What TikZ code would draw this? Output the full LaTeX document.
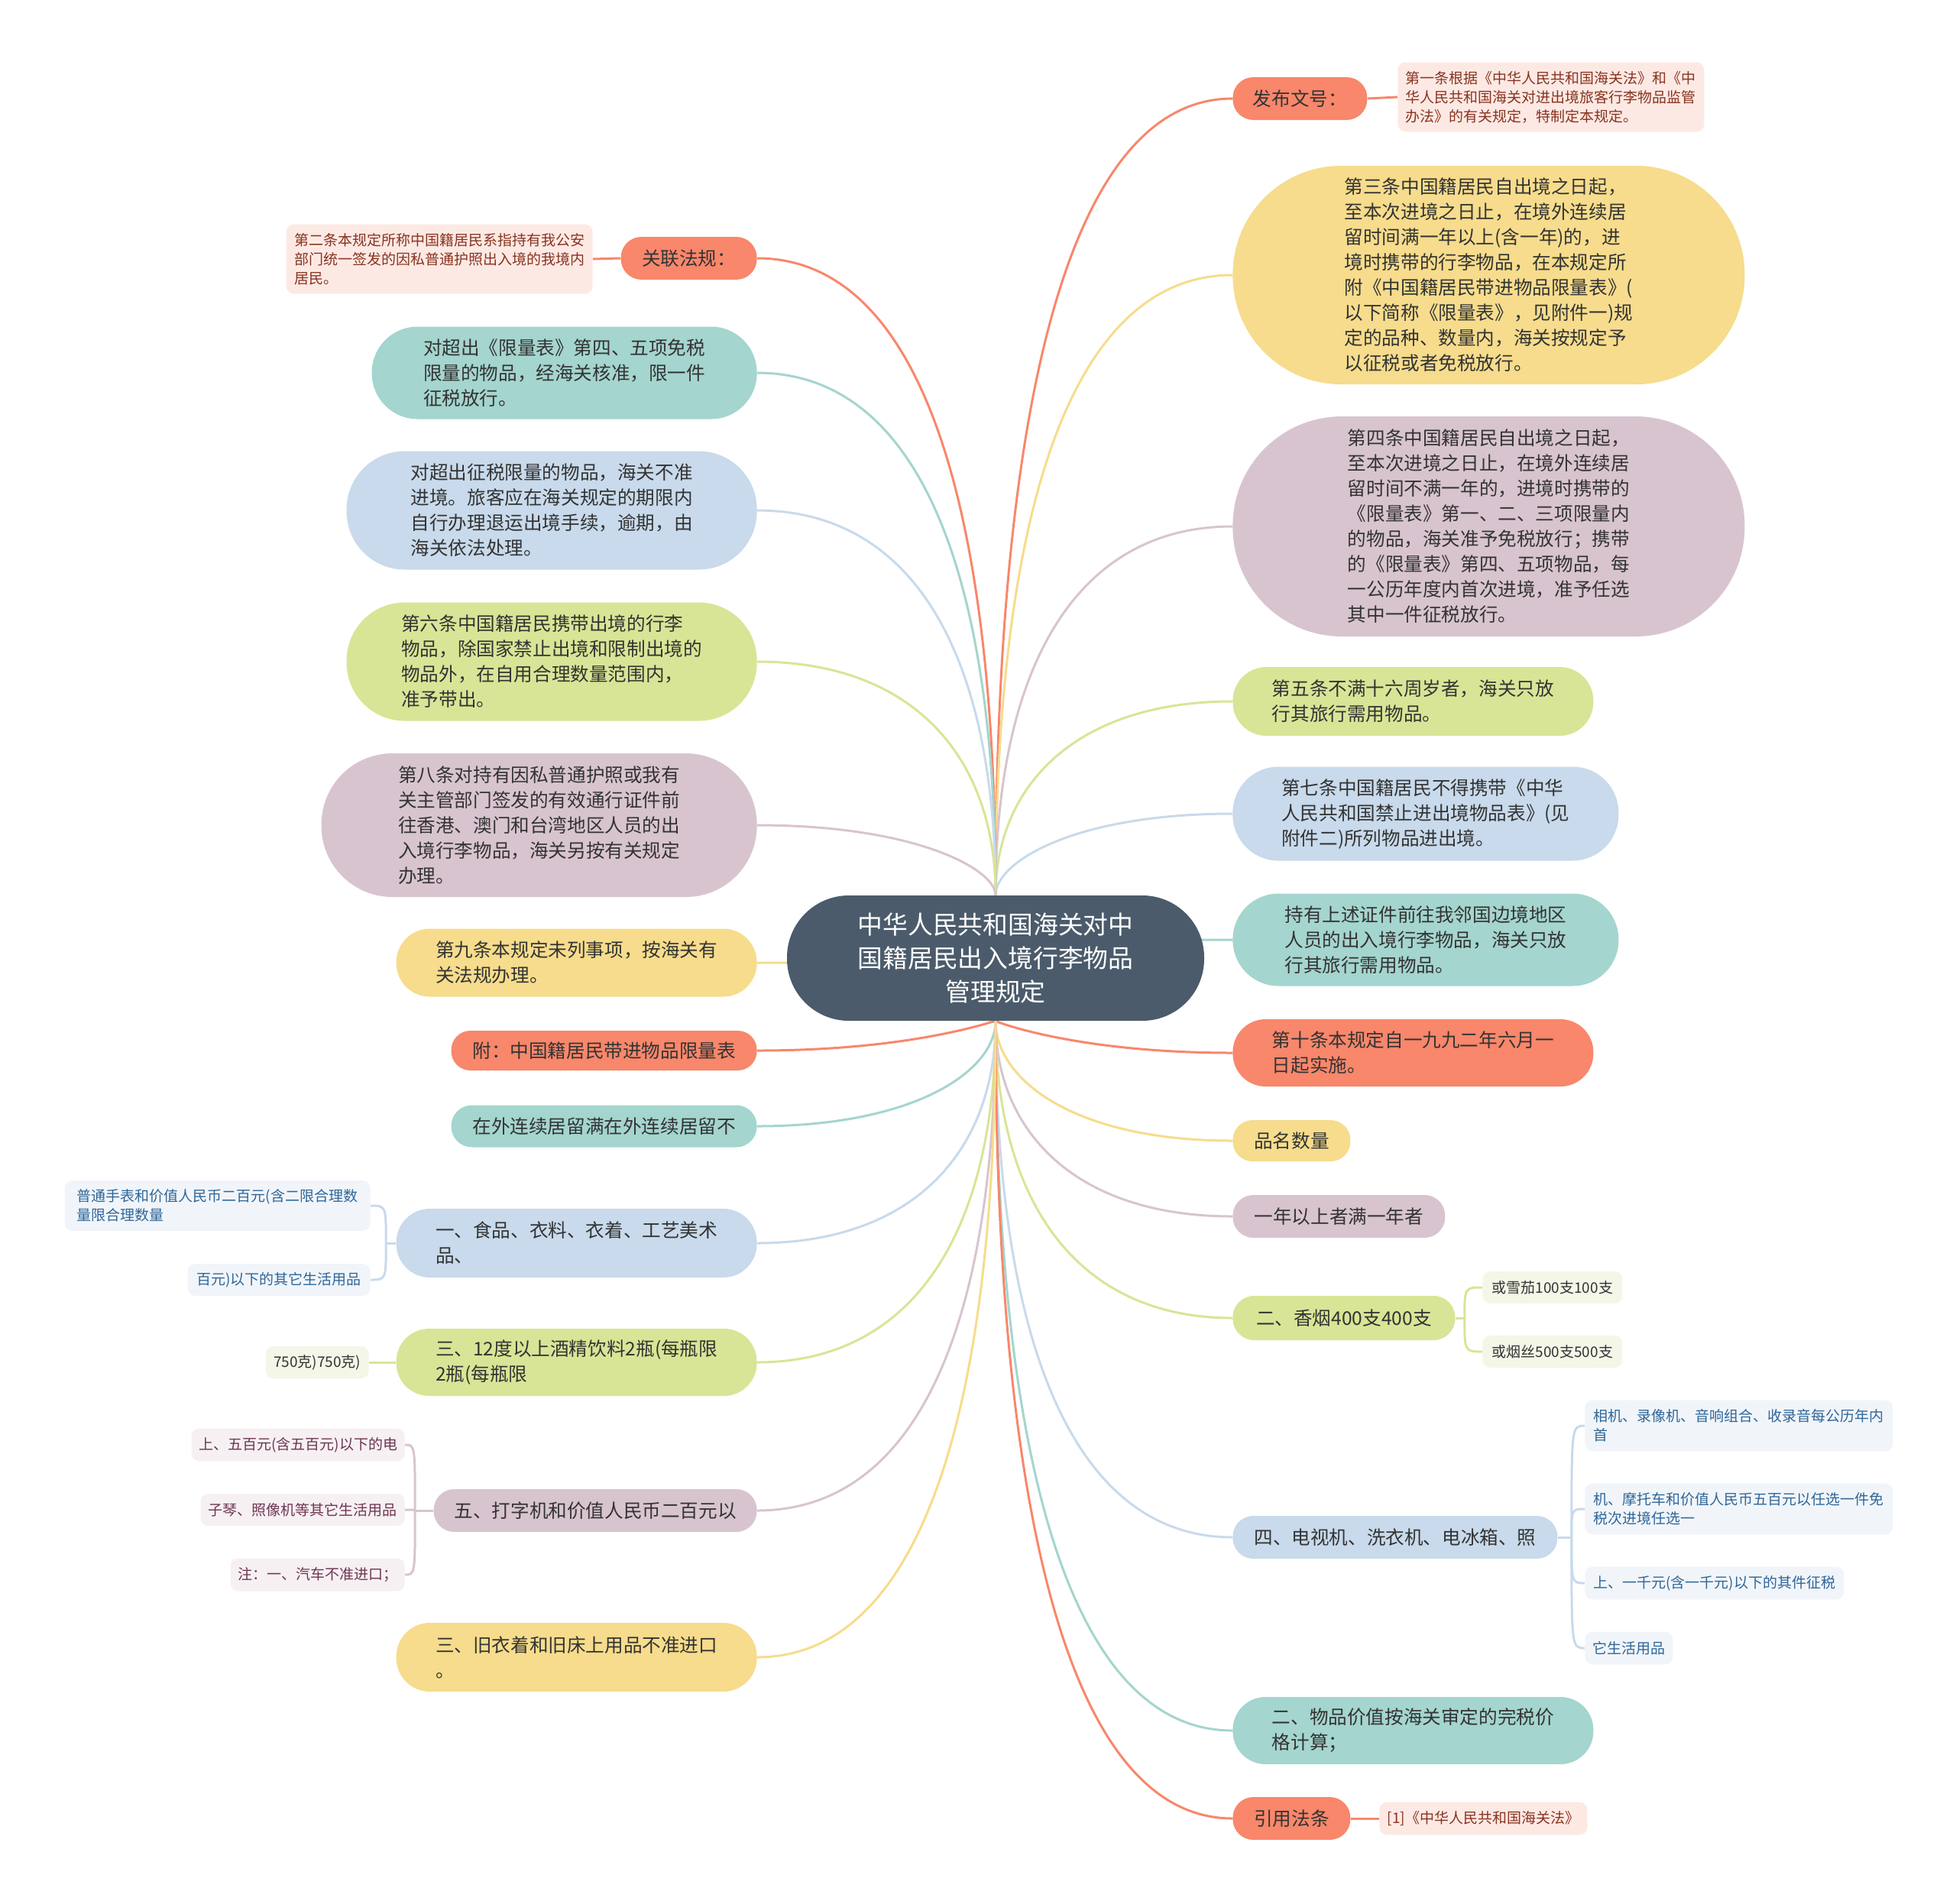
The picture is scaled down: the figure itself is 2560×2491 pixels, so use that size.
\documentclass[tikz,border=0pt]{standalone}
\usepackage{fontspec}
\setmainfont{Noto Sans CJK SC}
\usetikzlibrary{calc,backgrounds}

\definecolor{slate}{HTML}{4B5B6B}
\definecolor{orangeF}{HTML}{F8876B}
\definecolor{yellowF}{HTML}{F6DC8C}
\definecolor{mauveF}{HTML}{D8C4CF}
\definecolor{greenF}{HTML}{D8E596}
\definecolor{blueF}{HTML}{C8DAEB}
\definecolor{tealF}{HTML}{A4D5CE}
\definecolor{pinkS}{HTML}{FDE9E4}
\definecolor{blueS}{HTML}{F1F5F9}
\definecolor{mauveS}{HTML}{F6F0F3}
\definecolor{greenS}{HTML}{F4F6E8}
\definecolor{textdark}{HTML}{333333}
\definecolor{redT}{HTML}{88331F}
\definecolor{blueT}{HTML}{2E6699}
\definecolor{mauveT}{HTML}{6D3553}

\newcommand\titlefont{\fontsize{16.4}{22}\selectfont}
\newcommand\bodyfont{\fontsize{12.3}{16.5}\selectfont}
\newcommand\smallfont{\fontsize{9.5}{12.5}\selectfont}
% curved branch from the centre topic
\newcommand\branch[2]{\draw[link=#1] (cen) .. controls ($(cen)!.667!(cen |- #2)$) and ($(#2)!.667!(cen |- #2)$) .. (#2);}

\begin{document}
\begin{tikzpicture}[x=0.5pt,y=-0.5pt,
  topic/.style={fill=#1, text=textdark, font=\bodyfont, align=left, inner sep=0pt},
  sub/.style={fill=#1, rounded corners=5pt, font=\smallfont, align=left, inner sep=0pt},
  link/.style={draw=#1, line width=1.5pt}]
\useasboundingbox (0,0) rectangle (2560,2491);

% centre
\node[fill=slate, text=white, font=\titlefont, align=center, inner sep=0pt,
  minimum width=273pt, minimum height=82pt, rounded corners=40.5pt] (cen) at (1303,1254)
  {中华人民共和国海关对中\\国籍居民出入境行李物品\\管理规定};

% right side
\node[topic=orangeF, anchor=west, minimum width=88pt, minimum height=28pt, rounded corners=13.5pt] (pub) at (1613,129) {发布文号：};
\node[sub=pinkS, text=redT, anchor=west, minimum width=200.5pt, minimum height=45.5pt] (pubc) at (1829,127) {第一条根据《中华人民共和国海关法》和《中\\华人民共和国海关对进出境旅客行李物品监管\\办法》的有关规定，特制定本规定。};
\node[topic=yellowF, anchor=west, minimum width=335pt, minimum height=143pt, rounded corners=71pt] (art3) at (1613,360) {第三条中国籍居民自出境之日起，\\至本次进境之日止，在境外连续居\\留时间满一年以上(含一年)的，进\\境时携带的行李物品，在本规定所\\附《中国籍居民带进物品限量表》(\\以下简称《限量表》，见附件一)规\\定的品种、数量内，海关按规定予\\以征税或者免税放行。};
\node[topic=mauveF, anchor=west, minimum width=335pt, minimum height=144pt, rounded corners=71.5pt] (art4) at (1613,689) {第四条中国籍居民自出境之日起，\\至本次进境之日止，在境外连续居\\留时间不满一年的，进境时携带的\\《限量表》第一、二、三项限量内\\的物品，海关准予免税放行；携带\\的《限量表》第四、五项物品，每\\一公历年度内首次进境，准予任选\\其中一件征税放行。};
\node[topic=greenF, anchor=west, minimum width=236pt, minimum height=45pt, rounded corners=22pt] (art5) at (1613,918) {第五条不满十六周岁者，海关只放\\行其旅行需用物品。};
\node[topic=blueF, anchor=west, minimum width=252.5pt, minimum height=61.5pt, rounded corners=30pt] (art7) at (1613,1065) {第七条中国籍居民不得携带《中华\\人民共和国禁止进出境物品表》(见\\附件二)所列物品进出境。};
\node[topic=tealF, anchor=west, minimum width=252.5pt, minimum height=60.5pt, rounded corners=30pt] (border) at (1613,1230) {持有上述证件前往我邻国边境地区\\人员的出入境行李物品，海关只放\\行其旅行需用物品。};
\node[topic=orangeF, anchor=west, minimum width=236pt, minimum height=44pt, rounded corners=21.5pt] (art10) at (1613,1378) {第十条本规定自一九九二年六月一\\日起实施。};
\node[topic=yellowF, anchor=west, minimum width=77pt, minimum height=27pt, rounded corners=13pt] (pinming) at (1613,1493) {品名数量};
\node[topic=mauveF, anchor=west, minimum width=139pt, minimum height=28pt, rounded corners=13.5pt] (oneyr) at (1613,1592) {一年以上者满一年者};
\node[topic=greenF, anchor=west, minimum width=145.5pt, minimum height=29pt, rounded corners=14pt] (cig) at (1613,1725) {二、香烟400支400支};
\node[sub=greenS, text=textdark, anchor=west, minimum width=91.5pt, minimum height=21pt] (cigar) at (1940,1685) {或雪茄100支100支};
\node[sub=greenS, text=textdark, anchor=west, minimum width=91.5pt, minimum height=21pt] (pipe) at (1940,1769) {或烟丝500支500支};
\node[topic=blueF, anchor=west, minimum width=212.5pt, minimum height=28pt, rounded corners=13.5pt] (tv) at (1613,2012) {四、电视机、洗衣机、电冰箱、照};
\node[sub=blueS, text=blueT, anchor=west, minimum width=201.5pt, minimum height=33.5pt] (tva) at (2074,1866) {相机、录像机、音响组合、收录音每公历年内\\首};
\node[sub=blueS, text=blueT, anchor=west, minimum width=201.5pt, minimum height=33.5pt] (tvb) at (2074,1975) {机、摩托车和价值人民币五百元以任选一件免\\税次进境任选一};
\node[sub=blueS, text=blueT, anchor=west, minimum width=169.5pt, minimum height=21.5pt] (tvc) at (2074,2072) {上、一千元(含一千元)以下的其件征税};
\node[sub=blueS, text=blueT, anchor=west, minimum width=57.5pt, minimum height=21.5pt] (tvd) at (2074,2157) {它生活用品};
\node[topic=tealF, anchor=west, minimum width=236pt, minimum height=44pt, rounded corners=21.5pt] (value) at (1613,2265) {二、物品价值按海关审定的完税价\\格计算；};
\node[topic=orangeF, anchor=west, minimum width=77pt, minimum height=28pt, rounded corners=13.5pt] (cite) at (1613,2380) {引用法条};
\node[sub=pinkS, text=redT, anchor=west, minimum width=136pt, minimum height=21.5pt] (citec) at (1805,2380) {[1]《中华人民共和国海关法》};

% left side
\node[topic=orangeF, anchor=east, minimum width=89pt, minimum height=28pt, rounded corners=13.5pt] (rel) at (991,338) {关联法规：};
\node[sub=pinkS, text=redT, anchor=east, minimum width=200.5pt, minimum height=45.5pt] (relc) at (776,339) {第二条本规定所称中国籍居民系指持有我公安\\部门统一签发的因私普通护照出入境的我境内\\居民。};
\node[topic=tealF, anchor=east, minimum width=252pt, minimum height=60.5pt, rounded corners=30pt] (exempt) at (991,488) {对超出《限量表》第四、五项免税\\限量的物品，经海关核准，限一件\\征税放行。};
\node[topic=blueF, anchor=east, minimum width=268.5pt, minimum height=77.5pt, rounded corners=38pt] (overlim) at (991,668) {对超出征税限量的物品，海关不准\\进境。旅客应在海关规定的期限内\\自行办理退运出境手续，逾期，由\\海关依法处理。};
\node[topic=greenF, anchor=east, minimum width=268.5pt, minimum height=77.5pt, rounded corners=38pt] (art6) at (991,866) {第六条中国籍居民携带出境的行李\\物品，除国家禁止出境和限制出境的\\物品外，在自用合理数量范围内，\\准予带出。};
\node[topic=mauveF, anchor=east, minimum width=285pt, minimum height=94pt, rounded corners=46.5pt] (art8) at (991,1080) {第八条对持有因私普通护照或我有\\关主管部门签发的有效通行证件前\\往香港、澳门和台湾地区人员的出\\入境行李物品，海关另按有关规定\\办理。};
\node[topic=yellowF, anchor=east, minimum width=236pt, minimum height=44.5pt, rounded corners=22pt] (art9) at (991,1260) {第九条本规定未列事项，按海关有\\关法规办理。};
\node[topic=orangeF, anchor=east, minimum width=200pt, minimum height=26pt, rounded corners=12.5pt] (annex) at (991,1375) {附：中国籍居民带进物品限量表};
\node[topic=tealF, anchor=east, minimum width=200pt, minimum height=27.5pt, rounded corners=13.5pt] (abroad) at (991,1474) {在外连续居留满在外连续居留不};
\node[topic=blueF, anchor=east, minimum width=236pt, minimum height=45pt, rounded corners=22pt] (food) at (991,1627) {一、食品、衣料、衣着、工艺美术\\品、};
\node[sub=blueS, text=blueT, anchor=east, minimum width=200pt, minimum height=33pt] (fooda) at (485,1578) {普通手表和价值人民币二百元(含二限合理数\\量限合理数量};
\node[sub=blueS, text=blueT, anchor=east, minimum width=119.5pt, minimum height=21pt] (foodb) at (485,1675) {百元)以下的其它生活用品};
\node[topic=greenF, anchor=east, minimum width=236pt, minimum height=44pt, rounded corners=21.5pt] (wine) at (991,1783) {三、12度以上酒精饮料2瓶(每瓶限\\2瓶(每瓶限};
\node[sub=greenS, text=textdark, anchor=east, minimum width=67.5pt, minimum height=21pt] (winea) at (483,1783) {750克)750克)};
\node[topic=mauveF, anchor=east, minimum width=211.5pt, minimum height=28pt, rounded corners=13.5pt] (typer) at (991,1977) {五、打字机和价值人民币二百元以};
\node[sub=mauveS, text=mauveT, anchor=east, minimum width=139.5pt, minimum height=21.5pt] (typa) at (530,1891) {上、五百元(含五百元)以下的电};
\node[sub=mauveS, text=mauveT, anchor=east, minimum width=133.5pt, minimum height=21pt] (typb) at (530,1976) {子琴、照像机等其它生活用品};
\node[sub=mauveS, text=mauveT, anchor=east, minimum width=114pt, minimum height=21.5pt] (typc) at (530,2061) {注：一、汽车不准进口；};
\node[topic=yellowF, anchor=east, minimum width=236pt, minimum height=45pt, rounded corners=22pt] (used) at (991,2169) {三、旧衣着和旧床上用品不准进口\\。};

\coordinate (cigj) at ($(cig.east)+(12,0)$);
\coordinate (tvj) at ($(tv.east)+(18,0)$);
\coordinate (foodj) at ($(food.west)+(-13,0)$);
\coordinate (typj) at ($(typer.west)+(-24,0)$);

\begin{scope}[on background layer]
% branches of the centre
\branch{orangeF}{pub.west}
\branch{yellowF}{art3.west}
\branch{mauveF}{art4.west}
\branch{greenF}{art5.west}
\branch{blueF}{art7.west}
\branch{tealF}{border.west}
\branch{orangeF}{art10.west}
\branch{yellowF}{pinming.west}
\branch{mauveF}{oneyr.west}
\branch{greenF}{cig.west}
\branch{blueF}{tv.west}
\branch{tealF}{value.west}
\branch{orangeF}{cite.west}
\branch{orangeF}{rel.east}
\branch{tealF}{exempt.east}
\branch{blueF}{overlim.east}
\branch{greenF}{art6.east}
\branch{mauveF}{art8.east}
\branch{yellowF}{art9.east}
\branch{orangeF}{annex.east}
\branch{tealF}{abroad.east}
\branch{blueF}{food.east}
\branch{greenF}{wine.east}
\branch{mauveF}{typer.east}
\branch{yellowF}{used.east}
% sub branches
\draw[link=orangeF] (pub.east) -- (pubc.west);
\draw[link=orangeF] (cite.east) -- (citec.west);
\draw[link=orangeF] (rel.west) -- (relc.east);
\draw[link=greenF] (wine.west) -- (winea.east);
\draw[link=greenF] (cig.east) -- (cigj);
\draw[link=greenF] (cigj) .. controls (cigj |- cigar.west) .. (cigar.west);
\draw[link=greenF] (cigj) .. controls (cigj |- pipe.west) .. (pipe.west);
\draw[link=blueF] (tv.east) -- (tvj);
\foreach \n in {tva,tvb,tvc,tvd}
  \draw[link=blueF] (tvj) .. controls (tvj |- \n.west) .. (\n.west);
\draw[link=blueF] (food.west) -- (foodj);
\foreach \n in {fooda,foodb}
  \draw[link=blueF] (foodj) .. controls (foodj |- \n.east) .. (\n.east);
\draw[link=mauveF] (typer.west) -- (typj);
\foreach \n in {typa,typb,typc}
  \draw[link=mauveF] (typj) .. controls (typj |- \n.east) .. (\n.east);
\end{scope}
\end{tikzpicture}
\end{document}
